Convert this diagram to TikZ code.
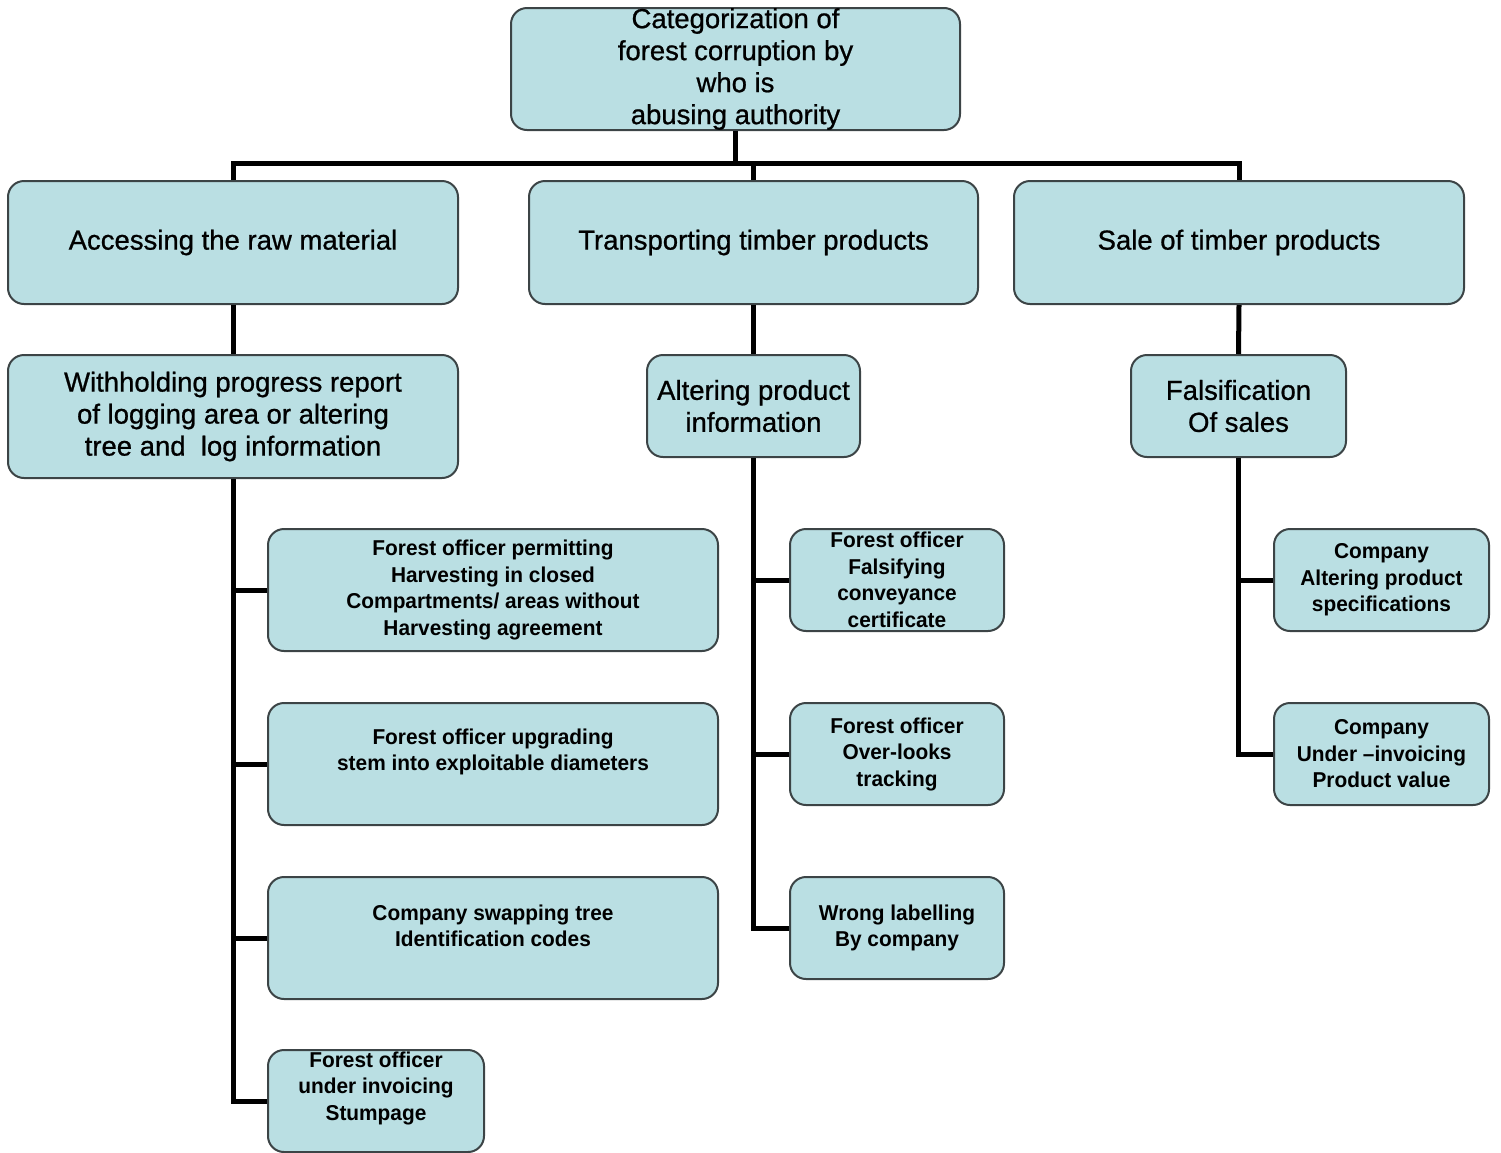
\documentclass[tikz,border=0pt]{standalone}
\usepackage{fontspec}
\setmainfont{Liberation Sans}
\newfontfamily\nb[FakeStretch=0.97]{Liberation Sans}
\newfontfamily\bigf[FakeBold=0.8]{Liberation Sans}
\definecolor{boxfill}{HTML}{BADFE3}
\definecolor{boxline}{HTML}{3C4446}
\tikzset{
  bx/.style={draw=boxline, line width=2pt, fill=boxfill, rounded corners=16pt, align=center, inner sep=0pt},
  big/.style={bx, font=\bigf\fontsize{27.5}{32}\selectfont},
  small/.style={bx, font=\nb\bfseries\fontsize{21.5}{26.5}\selectfont},
  smalltext/.style={align=center, inner sep=0pt, font=\nb\bfseries\fontsize{21.5}{26.5}\selectfont},
  conn/.style={line width=5pt, black},
}
\begin{document}
\begin{tikzpicture}[x=1pt,y=-1pt]
\useasboundingbox (0,0) rectangle (1501,1152);
% top
\node[big, minimum width=449, minimum height=122] (top) at (735.5,69) {Categorization of\\forest corruption by\\who is\\abusing authority};
% level 1
\node[big, minimum width=450, minimum height=123] (A) at (233,242.5) {Accessing the raw material};
\node[big, minimum width=449, minimum height=123] (B) at (753.5,242.5) {Transporting timber products};
\node[big, minimum width=450, minimum height=123] (C) at (1239,242.5) {Sale of timber products};
% level 2
\node[big, minimum width=450, minimum height=123] (A2) at (233,416.5) {Withholding progress report\\of logging area or altering\\tree and\ \ log information};
\node[big, minimum width=213, minimum height=102] (B2) at (753.5,406) {Altering product\\information};
\node[big, minimum width=215, minimum height=102] (C2) at (1238.5,406) {Falsification\\Of sales};
% level 3 A
\node[small, minimum width=450, minimum height=122] (a1) at (493,590) {Forest officer permitting\\Harvesting in closed\\Compartments/ areas without\\Harvesting agreement};
\node[small, minimum width=450, minimum height=122] (a2) at (493,764) {};
\node[smalltext] (a2t) at ([yshift=12pt]a2.center) {Forest officer upgrading\\stem into exploitable diameters};
\node[small, minimum width=450, minimum height=122] (a3) at (493,938) {};
\node[smalltext] (a3t) at ([yshift=12pt]a3.center) {Company swapping tree\\Identification codes};
\node[small, minimum width=216, minimum height=102] (a4) at (376,1101) {};
\node[smalltext] (a4t) at ([yshift=13pt]a4.center) {Forest officer\\under invoicing\\Stumpage};
% level 3 B
\node[small, minimum width=214, minimum height=102] (b1) at (897,580) {Forest officer\\Falsifying\\conveyance\\certificate};
\node[small, minimum width=214, minimum height=102] (b2) at (897,754) {Forest officer\\Over-looks\\tracking};
\node[small, minimum width=214, minimum height=102] (b3) at (897,928) {Wrong labelling\\By company};
% level 3 C
\node[small, minimum width=215, minimum height=102] (c1) at (1381.5,580) {Company\\Altering product\\specifications};
\node[small, minimum width=215, minimum height=102] (c2) at (1381.5,754) {Company\\Under \textendash invoicing\\Product value};
% connectors
\coordinate (bar) at (735.5,163);
\draw[conn] (top.south) -- (bar);
\draw[conn] (A.north) |- (bar) -| (C.north);
\draw[conn] (B.north) -- (B.north |- bar);
\draw[conn] (A.south) -- (A2.north);
\draw[conn] (B.south) -- (B2.north);
\draw[conn] (C.south) -- (C2.north);
\draw[conn] (A2.south) |- (a4.west);
\draw[conn] (a1.west) -- (a1.west -| A2.south);
\draw[conn] (a2.west) -- (a2.west -| A2.south);
\draw[conn] (a3.west) -- (a3.west -| A2.south);
\draw[conn] (B2.south) |- (b3.west);
\draw[conn] (b1.west) -- (b1.west -| B2.south);
\draw[conn] (b2.west) -- (b2.west -| B2.south);
\draw[conn] (C2.south) |- (c2.west);
\draw[conn] (c1.west) -- (c1.west -| C2.south);
\end{tikzpicture}
\end{document}
